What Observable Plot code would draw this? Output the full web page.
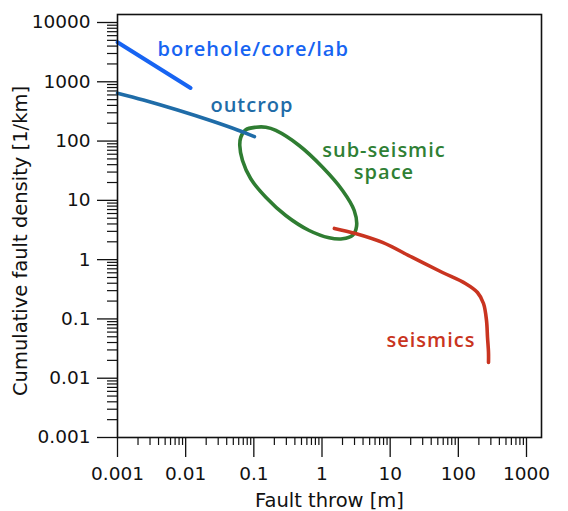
<!DOCTYPE html>
<html>
<head>
<meta charset="utf-8">
<script src="https://cdn.jsdelivr.net/npm/d3@7"></script>
<script src="https://cdn.jsdelivr.net/npm/@observablehq/plot@0.6"></script>
<style>
  body { margin: 0; background: #fff; }
  #chart svg g[aria-label="text"].lbl text { letter-spacing: 1px; }
  #chart svg g[aria-label="x-axis tick label"] text,
  #chart svg g[aria-label="y-axis tick label"] text { font-size: 18.5px; font-family: "DejaVu Sans"; fill: #111; }
</style>
</head>
<body>
<div id="chart"></div>
<script>
// ---- data ----
const xMajor = [0.001, 0.01, 0.1, 1, 10, 100, 1000];
const xMajorLabels = ["0.001", "0.01", "0.1", "1", "10", "100", "1000"];
const yMajor = [0.001, 0.01, 0.1, 1, 10, 100, 1000, 10000];
const yMajorLabels = ["0.001", "0.01", "0.1", "1", "10", "100", "1000", "10000"];
const minorMultipliers = [2, 3, 4, 5, 6, 7, 8, 9];

// borehole/core/lab
const boreholeX = [0.001, 0.0118];
const boreholeY = [4650, 785];

// outcrop
const outcropX = [0.001, 0.0024, 0.0076, 0.0231, 0.0575, 0.102];
const outcropY = [643, 493, 334, 222, 154, 119];

// sub-seismic space (outline points, read around the loop)
const ellipseX = [0.107, 0.0762, 0.0644, 0.0622, 0.0682, 0.0901, 0.150, 0.294, 0.649, 1.27, 2.00, 2.80, 3.21, 2.97, 2.00, 1.02, 0.462, 0.210, 0.150];
const ellipseY = [171, 155, 116, 84.2, 47.0, 23.1, 11.3, 5.56, 3.10, 2.34, 2.25, 2.56, 3.62, 6.75, 14.7, 36.2, 84.2, 151, 171];

// seismics
const seismicX = [1.52, 3.10, 7.71, 21.2, 58.6, 127, 191, 234, 259, 268, 277, 277];
const seismicY = [3.36, 2.76, 1.95, 1.09, 0.607, 0.396, 0.279, 0.182, 0.094, 0.0486, 0.0272, 0.0184];

// labels
const labelText = ["borehole/core/lab", "outcrop", "sub-seismic", "space", "seismics"];
const labelX = [0.00386, 0.0231, 8.11, 8.11, 39.7];
const labelY = [3510, 398, 69.3, 29.0, 0.0433];
const labelAnchor = ["start", "start", "middle", "middle", "middle"];
const labelColor = ["#1764f2", "#1f6ca8", "#2f8034", "#2f8034", "#c93420"];

// ---- build tables ----
const toPts = (xs, ys) => xs.map((x, i) => ({x, y: ys[i]}));
const borehole = toPts(boreholeX, boreholeY);
const outcrop = toPts(outcropX, outcropY);
const ellipse = toPts(ellipseX, ellipseY);
const seismic = toPts(seismicX, seismicY);
const labels = labelText.map((t, i) => ({t, x: labelX[i], y: labelY[i], a: labelAnchor[i], c: labelColor[i]}));

const xMinor = xMajor.slice(0, -1).flatMap(d => minorMultipliers.map(m => d * m));
const yMinor = yMajor.slice(0, -1).flatMap(d => minorMultipliers.map(m => d * m));
const xLab = new Map(xMajor.map((d, i) => [d, xMajorLabels[i]]));
const yLab = new Map(yMajor.map((d, i) => [d, yMajorLabels[i]]));

const lineStyle = {x: "x", y: "y", strokeWidth: 3.6, curve: "catmull-rom"};

const labelMarks = labels.map(l => Plot.text([l], {
  x: "x", y: "y", text: "t", textAnchor: l.a, fill: l.c,
  fontSize: 20, fontWeight: 600, fontFamily: "Open Sans", lineAnchor: "middle"
}));

const chart = Plot.plot({
  width: 568,
  height: 511,
  marginLeft: 117,
  marginRight: 27,
  marginTop: 14,
  marginBottom: 74,
  style: {fontFamily: "DejaVu Sans", fontSize: "18px", color: "#111", background: "#fff"},
  x: {type: "log", domain: [0.001, 1000], range: [117, 526]},
  y: {type: "log", domain: [0.001, 10000], range: [437, 22]},
  marks: [
    Plot.axisX(xMinor, {tickSize: 8, tickFormat: () => "", strokeWidth: 1.2, label: null}),
    Plot.axisX(xMajor, {tickSize: 20, tickPadding: 9, tickFormat: d => xLab.get(d), strokeWidth: 1.3, label: null}),
    Plot.axisY(yMinor, {tickSize: 10, tickFormat: () => "", strokeWidth: 1.2, label: null}),
    Plot.axisY(yMajor, {tickSize: 20, tickPadding: 7, tickFormat: d => yLab.get(d), strokeWidth: 1.3, label: null}),
    Plot.line(ellipse, {...lineStyle, stroke: "#2f7d32", curve: "catmull-rom-closed"}),
    Plot.line(borehole, {...lineStyle, stroke: "#1764f2", strokeWidth: 4}),
    Plot.line(outcrop, {...lineStyle, stroke: "#1f6ca8"}),
    Plot.line(seismic, {...lineStyle, stroke: "#c93420"}),
    ...labelMarks,
    Plot.text(["Fault throw [m]"], {frameAnchor: "bottom", dy: 63, lineAnchor: "middle", textAnchor: "middle", fontSize: 19.5}),
    Plot.text(["Cumulative fault density [1/km]"], {frameAnchor: "left", dx: -97, dy: 15, rotate: -90, lineAnchor: "middle", textAnchor: "middle", fontSize: 19.5}),
    Plot.frame({stroke: "#111", strokeWidth: 1.6})
  ]
});

// letter spacing on annotation labels
d3.select(chart).selectAll('g[aria-label="text"]').each(function() {
  const t = d3.select(this).select("text");
  if (t.size() && labelText.includes(t.text())) d3.select(this).classed("lbl", true);
});

document.getElementById("chart").appendChild(chart);
</script>
</body>
</html>
